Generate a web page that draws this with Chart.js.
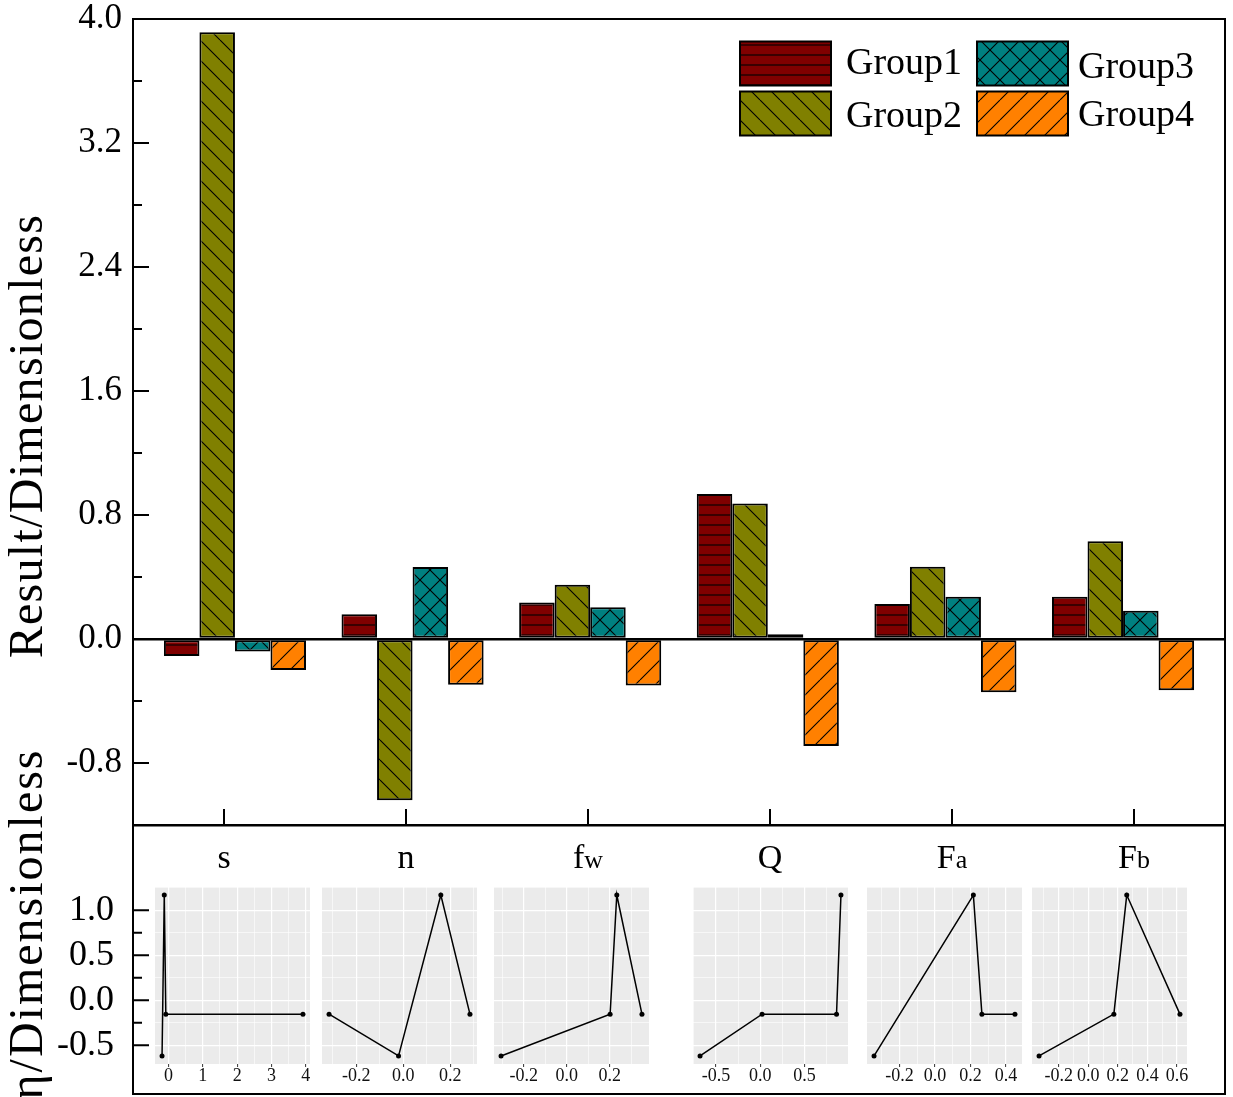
<!DOCTYPE html>
<html>
<head>
<meta charset="utf-8">
<script src="https://cdn.jsdelivr.net/npm/chart.js@4/dist/chart.umd.min.js"></script>
<style>
  html, body { margin: 0; padding: 0; background: #fff; }
  body { width: 1233px; height: 1097px; position: relative; overflow: hidden; }
  canvas { position: absolute; }
  #frame { position: absolute; left: 132px; top: 18px; width: 1094px; height: 1077px;
           border: 2.5px solid #000; box-sizing: border-box; pointer-events: none; }
  .ytitle { position: absolute; left: 26px; font-family: 'Liberation Serif', serif;
            font-size: 48px; line-height: 1; white-space: nowrap; color: #000; letter-spacing: 2px;
            transform: translate(-50%, -50%) rotate(-90deg); }
  #mainTitle { top: 436px; letter-spacing: 1.3px; }
  #etaTitle { top: 924px; }
</style>
</head>
<body>
<canvas id="main" width="1233" height="880" style="left:0;top:0"></canvas>
<canvas id="etaAxis" width="160" height="230" style="left:0;top:860px"></canvas>
<div id="subs"></div>
<div class="ytitle" id="mainTitle">Result/Dimensionless</div>
<div class="ytitle" id="etaTitle">η/Dimensionless</div>
<div id="frame"></div>
<script>
const FAM = "'Liberation Serif', 'Times New Roman', serif";
Chart.defaults.font.family = FAM;
Chart.defaults.color = '#000';
Chart.defaults.animation = false;

// ---- data: main bar chart ----
const categories = ['s', 'n', 'fw', 'Q', 'Fa', 'Fb'];
const catMain = ['s', 'n', 'f', 'Q', 'F', 'F'];
const catSub = ['', '', 'w', '', 'a', 'b'];
const groupNames = ['Group1', 'Group2', 'Group3', 'Group4'];
const group1 = [-0.11, 0.16, 0.235, 0.935, 0.226, 0.273];
const group2 = [3.914, -1.04, 0.35, 0.875, 0.466, 0.63];
const group3 = [-0.08, 0.465, 0.205, 0.03, 0.273, 0.183];
const group4 = [-0.20, -0.295, -0.30, -0.69, -0.344, -0.33];

// ---- data: small eta plots (x sorted) ----
const sX = [-0.19, -0.125, -0.08, 3.92];
const sEta = [-0.62, 1.17, -0.155, -0.155];
const nX = [-0.316, -0.02, 0.16, 0.284];
const nEta = [-0.155, -0.62, 1.17, -0.155];
const fwX = [-0.305, 0.202, 0.233, 0.35];
const fwEta = [-0.62, -0.155, 1.17, -0.155];
const QX = [-0.68, 0.02, 0.86, 0.91];
const QEta = [-0.62, -0.155, -0.155, 1.17];
const FaX = [-0.343, 0.216, 0.264, 0.45];
const FaEta = [-0.62, 1.17, -0.155, -0.155];
const FbX = [-0.333, 0.173, 0.26, 0.62];
const FbEta = [-0.62, -0.155, 1.17, -0.155];
const subTickStep = [1, 0.2, 0.2, 0.5, 0.2, 0.2];

// layout of the small panels (pixels)
const panelLeft = [155, 322, 494, 693, 867, 1032];
const panelWidth = 155;

// ---- hatch patterns ----
function makePattern(color, kind) {
  const size = kind === 'h' ? 10 : 20;
  const c = document.createElement('canvas');
  c.width = size; c.height = size;
  const g = c.getContext('2d');
  g.fillStyle = color;
  g.fillRect(0, 0, size, size);
  g.strokeStyle = '#000';
  g.lineWidth = 1.1;
  g.beginPath();
  if (kind === 'h') {
    g.moveTo(0, 5); g.lineTo(size, 5);
  }
  if (kind === 'b' || kind === 'x') {
    for (const x0 of [-size, 0, size]) { g.moveTo(x0, 0); g.lineTo(x0 + size, size); }
  }
  if (kind === 'f' || kind === 'x') {
    for (const x0 of [-size, 0, size]) { g.moveTo(x0, size); g.lineTo(x0 + size, 0); }
  }
  g.stroke();
  return g.createPattern(c, 'repeat');
}
const patterns = [
  makePattern('#800000', 'h'),
  makePattern('#808000', 'b'),
  makePattern('#008080', 'x'),
  makePattern('#FF8000', 'f')
];

const isMult = (v, step) => Math.abs(Math.round(v / step) - v / step) < 1e-6;
const isMajorMain = v => Math.abs(Math.round(v / 0.4)) % 2 === 0;
const fmt = (v, d) => { const r = Math.abs(v) < 1e-9 ? 0 : v; return r.toFixed(d); };

function noPad(s) { s.paddingTop = 0; s.paddingBottom = 0; s.paddingLeft = 0; s.paddingRight = 0; }

// ---- main chart decorations: inward ticks, category labels, legend ----
const mainDecor = {
  id: 'mainDecor',
  afterDraw(chart) {
    const { ctx, chartArea: a, scales: { x, y } } = chart;
    ctx.save();
    ctx.strokeStyle = '#000';
    ctx.lineWidth = 2;
    ctx.beginPath();
    y.ticks.forEach(t => {
      const py = y.getPixelForValue(t.value);
      const len = isMajorMain(t.value) ? 16 : 9;
      ctx.moveTo(a.left, py); ctx.lineTo(a.left + len, py);
    });
    categories.forEach((c, i) => {
      const px = x.getPixelForValue(i);
      ctx.moveTo(px, a.bottom); ctx.lineTo(px, a.bottom - 16);
    });
    ctx.stroke();

    // category labels with subscripts
    ctx.fillStyle = '#000';
    ctx.textBaseline = 'alphabetic';
    ctx.textAlign = 'left';
    const baseY = a.bottom + 43;
    categories.forEach((c, i) => {
      const px = x.getPixelForValue(i);
      ctx.font = '34px ' + FAM;
      const w1 = ctx.measureText(catMain[i]).width;
      ctx.font = '26px ' + FAM;
      const w2 = catSub[i] ? ctx.measureText(catSub[i]).width : 0;
      const sx = px - (w1 + w2) / 2;
      ctx.font = '34px ' + FAM;
      ctx.fillText(catMain[i], sx, baseY);
      if (catSub[i]) {
        ctx.font = '26px ' + FAM;
        ctx.fillText(catSub[i], sx + w1, baseY);
      }
    });

    // legend, two columns
    const colX = [740, 977], textOff = [106, 101];
    const rowY = [41.5, 91.5], baseL = [[73.5, 127], [77.5, 125.5]];
    ctx.font = '38px ' + FAM;
    chart.data.datasets.forEach((ds, k) => {
      const col = Math.floor(k / 2), row = k % 2;
      ctx.fillStyle = ds.backgroundColor;
      ctx.fillRect(colX[col], rowY[row], 91, 44);
      ctx.lineWidth = 2;
      ctx.strokeStyle = '#000';
      ctx.strokeRect(colX[col], rowY[row], 91, 44);
      ctx.fillStyle = '#000';
      ctx.fillText(ds.label, colX[col] + textOff[col], baseL[col][row]);
    });
    ctx.restore();
  }
};

const groups = [group1, group2, group3, group4];
const barAxisPad = 0.074;

new Chart(document.getElementById('main'), {
  type: 'bar',
  data: {
    labels: categories,
    datasets: groups.map((vals, k) => ({
      label: groupNames[k],
      data: vals.map((v, i) => ({ x: i, y: v })),
      xAxisID: 'xb',
      backgroundColor: patterns[k],
      borderColor: '#000',
      borderWidth: 2,
      borderSkipped: false,
      categoryPercentage: 0.8,
      barPercentage: 1.0
    }))
  },
  options: {
    responsive: false,
    animation: false,
    layout: { padding: { top: 19, right: 8, left: 0, bottom: 0 } },
    plugins: { legend: { display: false }, tooltip: { enabled: false } },
    scales: {
      x: {
        type: 'category', offset: true,
        grid: { display: false },
        ticks: { display: false },
        border: { display: true, color: '#000', width: 2.5 },
        afterFit: s => { s.height = 55; noPad(s); }
      },
      xb: {
        type: 'linear', display: false, offset: false, grid: { offset: false },
        ticks: { stepSize: 1, includeBounds: false },
        min: -0.5 - barAxisPad, max: categories.length - 0.5 + barAxisPad
      },
      y: {
        min: -1.2, max: 4.0,
        ticks: {
          stepSize: 0.4, autoSkip: false, padding: 11, font: { size: 35 },
          callback: v => isMajorMain(v) ? fmt(v, 1) : ''
        },
        grid: {
          drawTicks: false, lineWidth: 2.5,
          color: c => (c.tick && Math.abs(c.tick.value) < 1e-9) ? '#000' : 'rgba(0,0,0,0)'
        },
        border: { display: false },
        afterFit: s => { s.width = 133; noPad(s); }
      }
    }
  },
  plugins: [mainDecor]
});

// ---- eta scale shared by the small panels ----
const allEta = [].concat(sEta, nEta, fwEta, QEta, FaEta, FbEta);
const eMinD = Math.min(...allEta), eMaxD = Math.max(...allEta);
const etaMin = eMinD - 0.05 * (eMaxD - eMinD);
const etaMax = eMaxD + 0.05 * (eMaxD - eMinD);

const etaTicks = {
  id: 'etaTicks',
  afterDraw(chart) {
    const { ctx, chartArea: a, scales: { y } } = chart;
    ctx.save();
    ctx.strokeStyle = '#000';
    ctx.lineWidth = 2;
    ctx.beginPath();
    y.ticks.forEach(t => {
      if (t.value < -0.5 - 1e-9 || t.value > 1.0 + 1e-9) return;
      const py = y.getPixelForValue(t.value);
      const len = isMult(t.value, 0.5) ? 16 : 9;
      ctx.moveTo(a.left, py); ctx.lineTo(a.left + len, py);
    });
    ctx.stroke();
    ctx.restore();
  }
};

new Chart(document.getElementById('etaAxis'), {
  type: 'scatter',
  data: { datasets: [] },
  options: {
    responsive: false,
    animation: false,
    layout: { padding: { top: 27, bottom: 26, left: 0, right: 0 } },
    plugins: { legend: { display: false }, tooltip: { enabled: false } },
    scales: {
      x: { display: false, min: 0, max: 1 },
      y: {
        min: etaMin, max: etaMax,
        ticks: {
          stepSize: 0.25, includeBounds: false, autoSkip: false, padding: 11,
          font: { size: 36 },
          callback: v => (isMult(v, 0.5) && v >= -0.5 && v <= 1.0) ? fmt(v, 1) : ''
        },
        grid: { display: false },
        border: { display: false },
        afterFit: s => { s.width = 133; noPad(s); }
      }
    }
  },
  plugins: [etaTicks]
});

// ---- small panels ----
const panelBg = {
  id: 'panelBg',
  beforeDraw(chart) {
    const { ctx, chartArea: a } = chart;
    ctx.save();
    ctx.fillStyle = '#EBEBEB';
    ctx.fillRect(a.left, a.top, a.right - a.left, a.bottom - a.top);
    ctx.restore();
  }
};

const subXs = [sX, nX, fwX, QX, FaX, FbX];
const subEtas = [sEta, nEta, fwEta, QEta, FaEta, FbEta];
const holder = document.getElementById('subs');

subXs.forEach((xs, k) => {
  const cv = document.createElement('canvas');
  cv.width = panelWidth + 40;
  cv.height = 220;
  cv.style.left = (panelLeft[k] - 20) + 'px';
  cv.style.top = '877px';
  holder.appendChild(cv);
  const lo = Math.min(...xs), hi = Math.max(...xs);
  const step = subTickStep[k];
  const dec = step >= 1 ? 0 : 1;
  new Chart(cv, {
    type: 'scatter',
    data: {
      datasets: [{
        data: xs.map((v, i) => ({ x: v, y: subEtas[k][i] })),
        showLine: true, tension: 0,
        borderColor: '#000', borderWidth: 1.5,
        pointRadius: 2.5, pointBackgroundColor: '#000', pointBorderWidth: 0
      }]
    },
    options: {
      responsive: false,
      animation: false,
      layout: { padding: { left: 20, right: 20, top: 10, bottom: 0 } },
      plugins: { legend: { display: false }, tooltip: { enabled: false } },
      scales: {
        x: {
          type: 'linear',
          min: lo - 0.05 * (hi - lo), max: hi + 0.05 * (hi - lo),
          ticks: {
            stepSize: step / 2, includeBounds: false, autoSkip: false, maxRotation: 0,
            padding: 0, color: '#111', font: { size: 18, lineHeight: 1 },
            callback: v => isMult(v, step) ? fmt(v, dec) : ''
          },
          grid: {
            color: '#fff', tickLength: 3, tickWidth: 1,
            lineWidth: c => (c.tick && isMult(c.tick.value, step)) ? 1.2 : 0.6,
            tickColor: c => (c.tick && isMult(c.tick.value, step)) ? '#333' : 'rgba(0,0,0,0)'
          },
          border: { display: false },
          afterFit: s => { s.height = 33; noPad(s); }
        },
        y: {
          min: etaMin, max: etaMax,
          ticks: { display: false, stepSize: 0.25, includeBounds: false },
          grid: {
            color: '#fff', drawTicks: false,
            lineWidth: c => (c.tick && isMult(c.tick.value, 0.5)) ? 1.2 : 0.6
          },
          border: { display: false },
          afterFit: s => { s.width = 0; noPad(s); }
        }
      }
    },
    plugins: [panelBg]
  });
});
</script>
</body>
</html>
